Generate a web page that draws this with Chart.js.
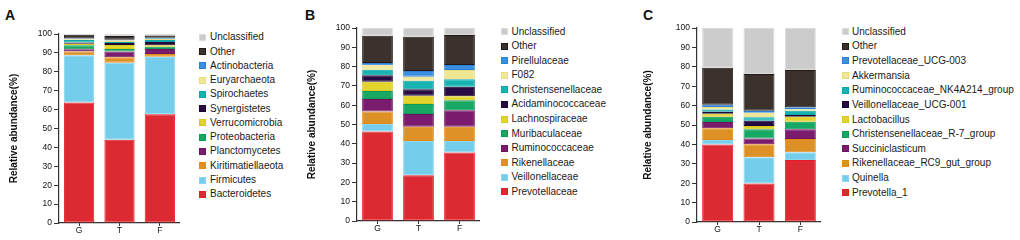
<!DOCTYPE html>
<html>
<head>
<meta charset="utf-8">
<script src="https://cdn.jsdelivr.net/npm/chart.js@4.4.0/dist/chart.umd.min.js"></script>
<style>
  body { margin: 0; width: 1020px; height: 240px; background: #fff; position: relative; overflow: hidden; font-family: "Liberation Sans", Arial, sans-serif; }
  .panel { position: absolute; top: 0; height: 240px; }
  .tag { position: absolute; top: 7.5px; font: bold 14px/14px "Liberation Sans", Arial, sans-serif; color: #111; }
  .sw { position: absolute; width: 7px; height: 7px; box-sizing: border-box; border: 1px solid; }
  .lab { position: absolute; font-size: 10px; line-height: 12px; color: #1a1a1a; white-space: nowrap; }
</style>
</head>
<body>
<div class="tag" style="left:5px">A</div>
<div class="tag" style="left:305px">B</div>
<div class="tag" style="left:643px">C</div>
<div class="panel" style="left:4px"><canvas id="chart-a" width="176" height="240"></canvas></div>
<div class="panel" style="left:302px"><canvas id="chart-b" width="178" height="240"></canvas></div>
<div class="panel" style="left:638px"><canvas id="chart-c" width="183" height="240"></canvas></div>
<div id="legends"></div>
<script>
// groups on the x axis
const groups = ["G", "T", "F"];

// A - phylum level, bottom to top of the stack
const phylumNames = ["Bacteroidetes", "Firmicutes", "Kiritimatiellaeota", "Planctomycetes", "Proteobacteria",
  "Verrucomicrobia", "Synergistetes", "Spirochaetes", "Euryarchaeota", "Actinobacteria", "Other", "Unclassified"];
const phylumG = [63.8, 24.9, 2.1, 1.1, 2.1, 0.9, 0.6, 1.3, 0.4, 0.4, 2.0, 0.4];
const phylumT = [44.1, 40.7, 2.9, 3.1, 1.2, 2.2, 1.1, 0.5, 0.8, 0.4, 1.9, 1.1];
const phylumF = [57.6, 30.4, 1.4, 2.6, 1.2, 0.8, 1.8, 1.0, 0.7, 0.5, 1.2, 0.8];

// B - family level
const familyNames = ["Prevotellaceae", "Veillonellaceae", "Rikenellaceae", "Ruminococcaceae", "Muribaculaceae",
  "Lachnospiraceae", "Acidaminococcaceae", "Christensenellaceae", "F082", "Pirellulaceae", "Other", "Unclassified"];
const familyG = [46.4, 3.8, 6.5, 6.5, 4.1, 4.8, 3.4, 2.9, 2.3, 1.2, 14.1, 4.0];
const familyT = [23.7, 17.8, 7.3, 6.6, 5.2, 4.3, 3.4, 4.4, 2.0, 3.0, 17.8, 4.5];
const familyF = [35.5, 6.0, 7.3, 8.6, 5.2, 2.1, 4.8, 3.9, 4.8, 2.6, 15.6, 3.6];

// C - genus level
const genusNames = ["Prevotella_1", "Quinella", "Rikenellaceae_RC9_gut_group", "Succiniclasticum",
  "Christensenellaceae_R-7_group", "Lactobacillus", "Veillonellaceae_UCG-001", "Ruminococcaceae_NK4A214_group",
  "Akkermansia", "Prevotellaceae_UCG-003", "Other", "Unclassified"];
const genusG = [40.0, 2.3, 6.0, 3.3, 2.6, 1.6, 1.0, 1.2, 1.3, 1.2, 19.0, 20.5];
const genusT = [19.9, 13.5, 6.7, 3.0, 4.7, 1.7, 2.7, 1.8, 2.3, 1.1, 18.9, 23.7];
const genusF = [32.0, 4.0, 6.8, 5.0, 3.9, 2.6, 0.9, 2.2, 0.7, 1.0, 19.3, 21.6];

// same palette in all three panels
const fills = ["#dc2a32", "#74cdeb", "#dc9025", "#7b1b6d", "#17a863", "#e2d42a",
  "#270b42", "#17b3b2", "#f0e793", "#3b8fe0", "#3b322d", "#cccccc"];
const edges = ["#e81c25", "#8ad6f0", "#e48a18", "#6e1560", "#119b58", "#d8c81f",
  "#1c0733", "#0fa6a5", "#e6dc80", "#2f80d4", "#1f1a17", "#dcdcdc"];

Chart.defaults.font.family = "'Liberation Sans', Arial, sans-serif";

const panels = [
  { canvas: "chart-a", names: phylumNames, values: [phylumG, phylumT, phylumF],
    axisW: 51, padTop: 34, padBottom: 0, legend: { box: 199, text: 210, top: 37.3, step: 14.27 } },
  { canvas: "chart-b", names: familyNames, values: [familyG, familyT, familyF],
    axisW: 51, padTop: 28, padBottom: 2, legend: { box: 501, text: 511.5, top: 31.7, step: 14.55 } },
  { canvas: "chart-c", names: genusNames, values: [genusG, genusT, genusF],
    axisW: 55, padTop: 28, padBottom: 1, legend: { box: 842, text: 852, top: 31.7, step: 14.64 } },
];

const buildChart = (p) => {
  const datasets = p.names.map((name, i) => ({
    label: name,
    data: p.values.map((col) => col[i]),
    backgroundColor: fills[i],
    borderColor: edges[i],
    borderWidth: 1,
    borderSkipped: false,
    categoryPercentage: 1,
    barPercentage: 0.75,
  }));

  const ctx = document.getElementById(p.canvas).getContext("2d");
  const chart = new Chart(ctx, {
    type: "bar",
    data: { labels: groups, datasets: datasets },
    options: {
      responsive: false,
      animation: false,
      layout: { padding: { left: 4, right: 0, top: p.padTop, bottom: p.padBottom } },
      plugins: {
        legend: { display: false },
        tooltip: { enabled: false },
      },
      scales: {
        x: {
          stacked: true,
          grid: { drawOnChartArea: false, offset: false, tickLength: 3, color: "#333" },
          border: { color: "#333", width: 1.2 },
          ticks: { color: "#111", font: { size: 8.5 }, padding: 0 },
          afterFit: (scale) => { scale.height = 17; },
        },
        y: {
          stacked: true,
          min: 0,
          max: 100,
          grid: { drawOnChartArea: false, tickLength: 5, color: "#333" },
          border: { color: "#333", width: 1.2 },
          ticks: { stepSize: 10, color: "#111", font: { size: 8.5 }, padding: 2 },
          title: {
            display: true,
            text: "Relative abundance(%)",
            color: "#111",
            font: { size: 10, weight: "bold" },
            padding: 0,
          },
          afterFit: (scale) => { scale.width = p.axisW; },
        },
      },
    },
  });

  // html legend, top item = last dataset
  const holder = document.getElementById("legends");
  const items = chart.data.datasets.slice().reverse();
  items.forEach((ds, row) => {
    const cy = p.legend.top + row * p.legend.step;
    const sw = document.createElement("div");
    sw.className = "sw";
    sw.style.left = p.legend.box + "px";
    sw.style.top = cy - 3.5 + "px";
    sw.style.background = ds.backgroundColor;
    sw.style.borderColor = ds.borderColor;
    holder.appendChild(sw);

    const lab = document.createElement("div");
    lab.className = "lab";
    lab.style.left = p.legend.text + "px";
    lab.style.top = cy - 6 + "px";
    lab.textContent = ds.label;
    holder.appendChild(lab);
  });
};

panels.forEach(buildChart);
</script>
</body>
</html>
